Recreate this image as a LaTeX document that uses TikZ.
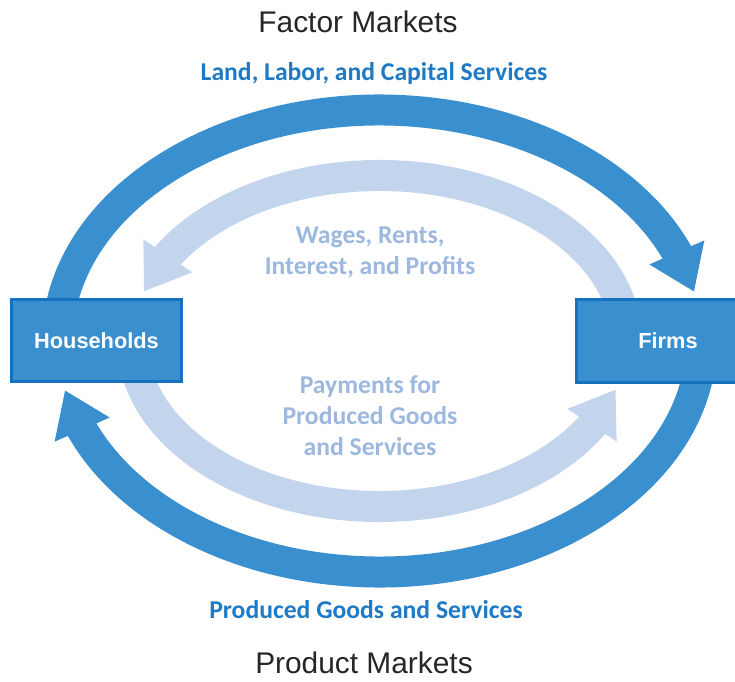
\documentclass[tikz,border=0pt]{standalone}
\usepackage{fontspec}
\setmainfont{Liberation Sans}
\newfontfamily\flowfont{Carlito}
\usetikzlibrary{positioning, calc, arrows.meta, bending}
\definecolor{flowDark}{RGB}{58,143,206}
\definecolor{flowLight}{RGB}{194,213,236}
\definecolor{boxBorder}{RGB}{22,114,190}
\definecolor{labelDark}{RGB}{30,122,196}
\definecolor{labelLight}{RGB}{157,184,222}
\colorlet{marketColor}{black!85}
\tikzstyle{sector}=[rectangle, draw=boxBorder, line width=1.5pt, fill=flowDark,
  text=white, font=\bfseries\fontsize{12.4}{14}\selectfont]
\tikzstyle{bigFlow}=[-{Triangle[width=1.14cm, length=0.86cm]}, line width=0.62cm, draw=flowDark]
\tikzstyle{moneyFlow}=[-{Triangle[width=1.12cm, length=0.86cm]}, line width=0.62cm, draw=flowLight]
\tikzstyle{market}=[font=\fontsize{17}{20}\selectfont, text=marketColor]
\tikzstyle{flowLabel}=[font=\flowfont\bfseries\fontsize{14.6}{17.6}\selectfont, align=center]

\begin{document}
\begin{tikzpicture}
      \useasboundingbox (0,0) rectangle (14.7,13.62);
      \clip (0,0) rectangle (14.7,13.62);
      \coordinate(ring) at (7.59,6.80);
      % outer flows: resources and goods
      \coordinate(landStart) at ($(ring)+(172:6.44 and 4.62)$);
      \coordinate(goodsStart) at ($(ring)+(-8:6.44 and 4.62)$);
      \draw[bigFlow] (landStart) arc[start angle=172, end angle=12.3, x radius=6.44, y radius=4.62];
      \draw[bigFlow] (goodsStart) arc[start angle=-8, end angle=-167.7, x radius=6.44, y radius=4.62];
      % inner flows: money
      \coordinate(wageStart) at ($(ring)+(10:4.94 and 3.31)$);
      \coordinate(payStart) at ($(ring)+(190:4.94 and 3.31)$);
      \draw[moneyFlow] (wageStart) arc[start angle=10, end angle=162.6, x radius=4.94, y radius=3.31];
      \draw[moneyFlow] (payStart) arc[start angle=190, end angle=343, x radius=4.94, y radius=3.31];
      \node(households) at (1.93,6.81) [sector, minimum width=3.40cm, minimum height=1.64cm] {Households};
      \node(firms) at (13.36,6.80) [sector, minimum width=3.66cm, minimum height=1.66cm] {Firms};
      \node(factor) at (7.16,13.18) [market] {Factor Markets};
      \node(product) at (7.28,0.36) [market] {Product Markets};
      \node(land) at (7.48,12.14) [flowLabel, text=labelDark] {Land, Labor, and Capital Services};
      \node(goods) at (7.32,1.42) [flowLabel, text=labelDark] {Produced Goods and Services};
      \node(wages) at (7.40,8.57) [flowLabel, text=labelLight] {Wages, Rents,\\Interest, and Profits};
      \node(payments) at (7.40,5.30) [flowLabel, text=labelLight] {Payments for\\Produced Goods\\and Services};
    \end{tikzpicture}
\end{document}
